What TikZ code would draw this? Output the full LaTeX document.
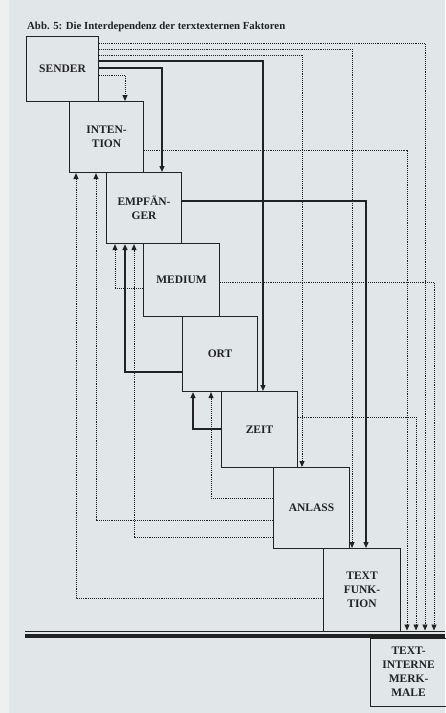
\documentclass[tikz,border=0pt]{standalone}
\usepackage{fontspec}
\setmainfont{Liberation Serif}
\usetikzlibrary{arrows.meta}
\definecolor{paper}{RGB}{225,230,232}
\definecolor{paperedge}{RGB}{238,240,240}
\definecolor{ink}{RGB}{34,34,34}
\begin{document}
\begin{tikzpicture}[x=1pt,y=-1pt,
  box/.style={draw=ink,line width=1.1pt,inner sep=0pt,anchor=north west,
    font=\fontsize{11.5}{14}\selectfont\bfseries,align=center,text=ink},
  tip/.style={-{Triangle[length=6pt,width=5pt]}},
  sline/.style={draw=ink,line width=1.3pt,tip},
  dline/.style={draw=ink,line width=0.9pt,dash pattern=on 1pt off 0.9pt,tip},
]
\useasboundingbox (0,0) rectangle (445,713);
\fill[paper] (0,0) rectangle (445,713);
\fill[paperedge] (0,0) rectangle (9,713);

\node[anchor=base west,inner sep=0pt,
  font=\fontsize{10.8}{13}\selectfont\bfseries,text=ink] (title) at (27,29)
  {Abb. 5: Die Interdependenz der terxtexternen Faktoren};

% boxes
\node[box,minimum width=72pt,minimum height=65pt] (S)  at (26,36)  {SENDER};
\node[box,minimum width=74pt,minimum height=71pt] (I)  at (69,101) {INTEN-\\TION};
\node[box,minimum width=75pt,minimum height=71pt] (E)  at (106,172) {EMPFÄN-\\GER};
\node[box,minimum width=76pt,minimum height=73pt] (M)  at (143,243) {MEDIUM};
\node[box,minimum width=75pt,minimum height=75pt] (O)  at (182,316) {ORT};
\node[box,minimum width=76pt,minimum height=76pt] (Z)  at (221,391) {ZEIT};
\node[box,minimum width=76pt,minimum height=81pt] (A)  at (273,467) {ANLASS};
\node[box,minimum width=77pt,minimum height=83pt] (TF) at (323,548) {TEXT\\FUNK-\\TION};
\node[box,minimum width=76pt,minimum height=68pt] (TI) at (370,637.5) {TEXT-\\INTERNE\\MERK-\\MALE};

% dividing double line
\draw[ink,line width=1pt] (25,631) -- (445,631);
\draw[ink,line width=4pt] (25,635.5) -- (445,635.5);

\coordinate (bI) at (407,630.5);
\coordinate (bZ) at (416,630.5);
\coordinate (bS) at (425,630.5);
\coordinate (bM) at (434,630.5);

% from SENDER
\draw[dline] ([yshift=-7pt]S.north east)  -| (bS);
\draw[dline] ([yshift=-13pt]S.north east) -| ([xshift=29pt]TF.north west);
\draw[dline] ([yshift=-19pt]S.north east) -| ([xshift=29pt]A.north west);
\draw[sline] ([yshift=-25pt]S.north east) -| ([xshift=42pt]Z.north west);
\draw[sline] ([yshift=-32pt]S.north east) -| ([xshift=56pt]E.north west);
\draw[dline] ([yshift=-39pt]S.north east) -| ([xshift=56pt]I.north west);

% to the right
\draw[dline] ([yshift=-49pt]I.north east) -| (bI);
\draw[sline] ([yshift=-29pt]E.north east) -| ([xshift=43pt]TF.north west);
\draw[dline] ([yshift=-39pt]M.north east) -| (bM);
\draw[dline] ([yshift=-26pt]Z.north east) -| (bZ);

% back to the left
\draw[dline] ([yshift=-45pt]M.north west)  -| ([xshift=9pt]E.south west);
\draw[sline] ([yshift=-56pt]O.north west)  -| ([xshift=19pt]E.south west);
\draw[dline] ([yshift=-70pt]A.north west)  -| ([xshift=28pt]E.south west);
\draw[dline] ([yshift=-53pt]A.north west)  -| ([xshift=27pt]I.south west);
\draw[dline] ([yshift=-31pt]A.north west)  -| ([xshift=29pt]O.south west);
\draw[dline] ([yshift=-50pt]TF.north west) -| ([xshift=7pt]I.south west);
\draw[sline] ([yshift=-38pt]Z.north west)  -| ([xshift=11pt]O.south west);
\end{tikzpicture}
\end{document}
